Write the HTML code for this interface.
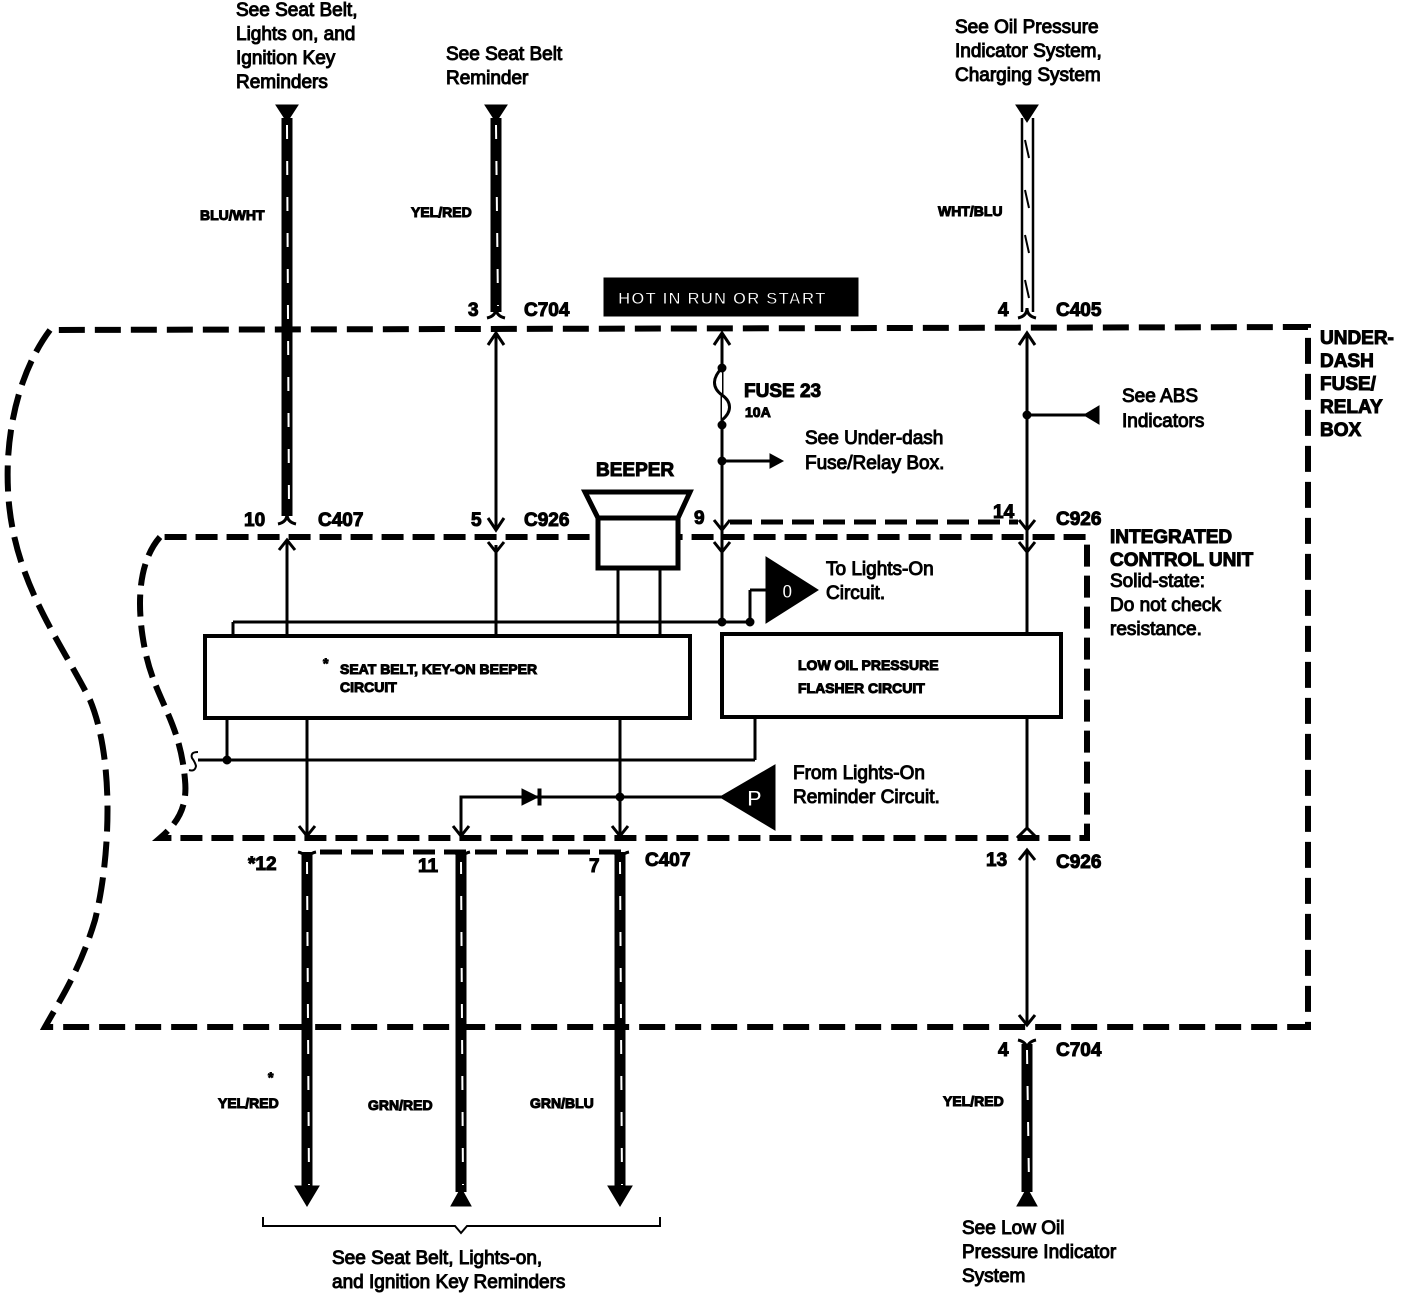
<!DOCTYPE html>
<html><head><meta charset="utf-8"><style>
html,body{margin:0;padding:0;background:#fff}
svg{display:block}
text{font-family:"Liberation Sans",sans-serif;fill:#000}
.b{font-weight:bold}
</style></head><body>
<svg width="1408" height="1296" viewBox="0 0 1408 1296" xmlns="http://www.w3.org/2000/svg">
<g fill="none" stroke="#000">
<path d="M50,330 C20,370 5,430 8,490 C12,580 60,640 90,700 C115,760 110,860 95,920 C80,970 60,1000 45,1027 L1308,1027 L1308,327 L50,330" stroke-width="6" stroke-dasharray="26,10"/>
<path d="M160,537 C140,560 135,600 145,650 C155,700 180,720 185,780 C188,810 175,825 160,838 L1087,838 L1087,537 L160,537" stroke-width="6" stroke-dasharray="22,9"/>
<path d="M730,522 L1018,522" stroke-width="5" stroke-dasharray="22,9"/>
<path d="M320,852 L630,852" stroke-width="5" stroke-dasharray="22,9"/>
<g stroke-width="11">
<line x1="287" y1="118" x2="287" y2="516"/>
<line x1="496" y1="118" x2="496" y2="312"/>
<line x1="307" y1="852" x2="307" y2="1190"/>
<line x1="461" y1="852" x2="461" y2="1192"/>
<line x1="620" y1="852" x2="620" y2="1190"/>
<line x1="1027" y1="1044" x2="1027" y2="1192"/>
</g>
<g stroke="#fff" stroke-width="2" stroke-dasharray="14,22">
<line x1="287" y1="125" x2="289" y2="510"/>
<line x1="496" y1="125" x2="498" y2="306"/>
<line x1="307" y1="860" x2="309" y2="1185"/>
<line x1="461" y1="860" x2="463" y2="1185"/>
<line x1="620" y1="860" x2="622" y2="1185"/>
<line x1="1027" y1="1050" x2="1029" y2="1185"/>
</g>
<line x1="1022" y1="118" x2="1022" y2="312" stroke-width="2.5"/>
<line x1="1033" y1="118" x2="1033" y2="312" stroke-width="2.5"/>
<path d="M1025,140 l4,18 M1025,190 l4,18 M1025,235 l4,18 M1025,280 l4,18" stroke-width="2"/>
<g stroke-width="3">
<path d="M278,524 q9,-2 9,-10 q0,8 9,10"/>
<path d="M487,318 q9,-2 9,-10 q0,8 9,10"/>
<path d="M1018,318 q9,-2 9,-10 q0,8 9,10"/>
<path d="M298,852 q9,2 9,10 q0,-8 9,-10"/>
<path d="M452,852 q9,2 9,10 q0,-8 9,-10"/>
<path d="M611,852 q9,2 9,10 q0,-8 9,-10"/>
<path d="M1018,1040 q9,2 9,10 q0,-8 9,-10"/>
</g>
<g stroke-width="3">
<line x1="496" y1="333" x2="496" y2="530"/>
<path d="M488,345 L496,333 L504,345 M488,518 L496,530 L504,518"/>
<path d="M488,542 L496,552 L504,542"/>
<line x1="496" y1="545" x2="496" y2="636"/>
<line x1="287" y1="540" x2="287" y2="636"/>
<path d="M279,550 L287,540 L295,550"/>
<line x1="722" y1="333" x2="722" y2="622"/>
<path d="M714,345 L722,333 L730,345 M714,520 L722,530 L730,520 M714,542 L722,552 L730,542"/>
<path d="M722,368 C712,378 712,388 722,395 C732,402 732,412 722,420" fill="#fff"/>
<line x1="722" y1="461" x2="775" y2="461"/>
<line x1="1027" y1="333" x2="1027" y2="636"/>
<path d="M1019,345 L1027,333 L1035,345 M1019,520 L1027,530 L1035,520 M1019,542 L1027,552 L1035,542"/>
<line x1="1027" y1="415" x2="1090" y2="415"/>
<line x1="233" y1="622" x2="750" y2="622"/>
<line x1="233" y1="622" x2="233" y2="636"/>
<line x1="618" y1="568" x2="618" y2="636"/>
<line x1="660" y1="568" x2="660" y2="636"/>
<line x1="750" y1="622" x2="750" y2="590"/>
<line x1="750" y1="590" x2="768" y2="590"/>
<line x1="1027" y1="717" x2="1027" y2="830"/>
<path d="M1017,838 L1027,828 L1037,838"/>
<line x1="1027" y1="850" x2="1027" y2="1025"/>
<path d="M1019,860 L1027,850 L1035,860 M1019,1015 L1027,1025 L1035,1015"/>
<line x1="307" y1="718" x2="307" y2="836"/>
<path d="M299,826 L307,836 L315,826"/>
<line x1="227" y1="718" x2="227" y2="760"/>
<line x1="198" y1="760" x2="755" y2="760"/>
<line x1="755" y1="717" x2="755" y2="760"/>
<path d="M198,752 q-8,0 -6,6 q3,4 4,8 q-1,6 -7,4" stroke-width="2"/>
<line x1="620" y1="718" x2="620" y2="836"/>
<path d="M612,826 L620,836 L628,826"/>
<path d="M461,836 L461,797 L725,797"/>
<path d="M453,826 L461,836 L469,826"/>
<rect x="205" y="636" width="485" height="82" stroke-width="4" fill="#fff"/>
<rect x="722" y="634" width="339" height="83" stroke-width="4" fill="#fff"/>
<path d="M585,492 L690,492 L678,518 L598,518 Z" stroke-width="5" fill="#fff"/>
<rect x="598" y="518" width="80" height="50" stroke-width="5" fill="#fff"/>
<path d="M263,1217 L263,1226 L455,1226 L461,1233 L467,1226 L660,1226 L660,1217" stroke-width="2"/>
</g>
<g fill="#000">
<polygon points="276,105 298,105 287,122"/>
<polygon points="485,105 507,105 496,122"/>
<polygon points="1016,105 1038,105 1027,122"/>
<polygon points="295,1186 319,1186 307,1206"/>
<polygon points="608,1186 632,1186 620,1206"/>
<polygon points="451,1206 471,1206 461,1188"/>
<polygon points="1017,1206 1037,1206 1027,1188"/>
<polygon points="770,454 770,468 783,461"/>
<polygon points="1099,406 1099,424 1084,415"/>
<polygon points="522,789 522,805 538,797"/>
<rect x="538" y="789" width="3" height="16"/>
<circle cx="722" cy="368" r="4"/><circle cx="722" cy="425" r="4"/><circle cx="722" cy="461" r="4"/>
<circle cx="1027" cy="415" r="4"/><circle cx="722" cy="622" r="4"/><circle cx="750" cy="622" r="4"/>
<circle cx="227" cy="760" r="4"/><circle cx="620" cy="797" r="4"/>
<polygon points="766,557 766,623 818,590"/>
<polygon points="775,765 775,830 720,797"/>
<rect x="604" y="278" width="254" height="38"/>
</g>
<text x="782" y="598" font-size="19" class="b" style="fill:#fff">0</text>
<text x="747" y="806" font-size="22" class="b" style="fill:#fff">P</text>
<text x="618" y="304" font-size="17" class="b" style="fill:#fff" letter-spacing="1">HOT IN  RUN  OR  START</text>
<g font-size="19">
<text x="236" y="16">See Seat Belt,</text>
<text x="236" y="40">Lights on, and</text>
<text x="236" y="64">Ignition Key</text>
<text x="236" y="88">Reminders</text>
<text x="446" y="60">See Seat Belt</text>
<text x="446" y="84">Reminder</text>
<text x="955" y="33">See Oil Pressure</text>
<text x="955" y="57">Indicator System,</text>
<text x="955" y="81">Charging System</text>
<text x="805" y="444">See Under-dash</text>
<text x="805" y="469">Fuse/Relay Box.</text>
<text x="1122" y="402">See ABS</text>
<text x="1122" y="427">Indicators</text>
<text x="826" y="575">To  Lights-On</text>
<text x="826" y="599">Circuit.</text>
<text x="793" y="779">From Lights-On</text>
<text x="793" y="803">Reminder Circuit.</text>
<text x="332" y="1264">See Seat Belt, Lights-on,</text>
<text x="332" y="1288">and Ignition Key Reminders</text>
<text x="962" y="1234">See Low Oil</text>
<text x="962" y="1258">Pressure Indicator</text>
<text x="962" y="1282">System</text>
<text x="1110" y="587">Solid-state:</text>
<text x="1110" y="611">Do not check</text>
<text x="1110" y="635">resistance.</text>
</g>
<g font-size="14" class="b">
<text x="200" y="220">BLU/WHT</text>
<text x="411" y="217">YEL/RED</text>
<text x="938" y="216">WHT/BLU</text>
<text x="218" y="1108">YEL/RED</text>
<text x="268" y="1082">*</text>
<text x="368" y="1110">GRN/RED</text>
<text x="530" y="1108">GRN/BLU</text>
<text x="943" y="1106">YEL/RED</text>
<text x="745" y="417">10A</text>
<text x="798" y="670">LOW OIL PRESSURE</text>
<text x="798" y="693">FLASHER CIRCUIT</text>
<text x="340" y="674">SEAT BELT, KEY-ON BEEPER</text>
<text x="340" y="692">CIRCUIT</text>
<text x="323" y="668">*</text>
</g>
<g font-size="19" class="b">
<text x="468" y="316">3</text><text x="524" y="316">C704</text>
<text x="998" y="316">4</text><text x="1056" y="316">C405</text>
<text x="744" y="397">FUSE 23</text>
<text x="596" y="476">BEEPER</text>
<text x="244" y="526">10</text><text x="318" y="526">C407</text>
<text x="471" y="526">5</text><text x="524" y="526">C926</text>
<text x="694" y="524">9</text>
<text x="993" y="518">14</text><text x="1056" y="525">C926</text>
<text x="248" y="870">*12</text>
<text x="418" y="872">11</text>
<text x="589" y="872">7</text><text x="645" y="866">C407</text>
<text x="986" y="866">13</text><text x="1056" y="868">C926</text>
<text x="998" y="1056">4</text><text x="1056" y="1056">C704</text>
<text x="1320" y="344">UNDER-</text>
<text x="1320" y="367">DASH</text>
<text x="1320" y="390">FUSE/</text>
<text x="1320" y="413">RELAY</text>
<text x="1320" y="436">BOX</text>
<text x="1110" y="543">INTEGRATED</text>
<text x="1110" y="566">CONTROL UNIT</text>
</g>
</svg>
</body></html>
